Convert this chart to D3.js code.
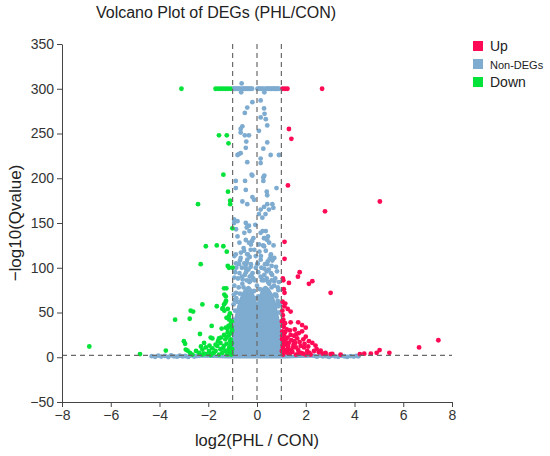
<!DOCTYPE html>
<html>
<head>
<meta charset="utf-8">
<script src="https://cdn.jsdelivr.net/npm/d3@7"></script>
<style>
  body { margin: 0; background: #fff; }
  svg text { font-family: "Liberation Sans", Arial, sans-serif; fill: #222; }
  .axis path, .axis line { stroke: #444; }
  .axis text { font-size: 14px; fill: #333; }
  .cut { stroke: #6a6a6a; stroke-width: 1.2; stroke-dasharray: 5,4; fill: none; }
</style>
</head>
<body>
<svg id="chart" width="550" height="456"></svg>
<script>
// thresholds
const fcCut = 1;
const qCut = 2;

const xTicks = [-8, -6, -4, -2, 0, 2, 4, 6, 8];
const yTicks = [-50, 0, 50, 100, 150, 200, 250, 300, 350];

// Up-regulated genes (log2FC, -log10 Q)
const upX = [2.67, 1.05, 1.15, 1.25, 1.31, 1.41, 1.27, 1.13, 1.13, 5.04, 2.79,
  1.75, 1.68, 1.08, 1.31, 2.27, 2.13, 1.13, 3.02, 1.06, 1.1, 1.16, 1.26, 1.06,
  1.04, 1.38, 1.38, 1.69, 1.85, 2.0, 1.85, 1.04, 1.04, 1.1, 1.11, 1.38, 1.52,
  1.72, 1.25, 1.65, 2.0, 2.13, 2.27, 1.1, 1.3, 1.5, 1.79, 1.93, 1.07, 1.27, 1.48,
  1.69, 2.06, 2.34, 2.54, 2.81, 3.09, 3.43, 1.07, 1.34, 1.6, 1.89, 2.2, 1.2, 1.57,
  2.4, 2.61, 2.81, 3.02, 1.02, 1.08, 1.15, 1.03, 1.05, 1.02, 1.12, 1.18, 1.15,
  1.22, 1.03, 1.2, 1.14, 1.4, 1.45, 1.6, 1.75, 1.8, 1.95, 1.35, 1.55, 1.7, 1.25,
  1.4, 1.52, 1.62, 1.08, 1.28, 1.9, 2.1, 2.45, 2.15, 2.0, 2.7, 4.67, 4.91, 5.03,
  5.43, 6.65, 7.44, 4.22, 4.4, 1.05, 1.12];
const upY = [300, 300, 300, 300, 255, 244, 192, 129, 110, 174, 163,
  95, 90, 86, 83, 85, 82, 72, 72, 88, 76, 60, 54, 47,
  52, 51, 39, 39, 36, 33, 29, 35, 29, 34, 25, 25, 24,
  27, 22, 21, 23, 18, 16, 16, 16, 14, 12.6, 11, 11, 9, 11,
  8, 7, 7, 5.5, 3.7, 3.7, 3, 3, 4, 3, 4, 3, 14, 16,
  13, 7.5, 5, 3.5, 40, 42, 38, 20, 13, 7, 6, 20, 28,
  31, 24, 8, 18, 19, 6, 11, 17, 5, 15, 30, 31, 4, 5,
  8, 18, 26, 22, 12, 20, 12, 9, 5, 3, 4, 4, 5, 8,
  5, 11, 19, 3.5, 4, 62, 57];

// Down-regulated genes
const downX = [-3.1, -1.1, -1.2, -1.3, -1.4, -1.5, -1.6, -1.7, -1.56, -1.24,
  -1.17, -1.38, -1.19, -1.1, -1.1, -2.42, -1.01, -1.65, -1.38, -1.24, -2.1, -2.31,
  -1.2, -1.0, -1.15, -1.35, -1.26, -1.28, -1.34, -1.27, -2.24, -1.65, -1.3, -1.35,
  -1.42, -2.62, -2.72, -1.34, -1.11, -3.36, -2.76, -1.25, -1.14, -1.86, -1.17,
  -1.21, -1.04, -1.28, -2.34, -3.0, -2.95, -1.83, -1.48, -1.14, -2.85, -3.74,
  -6.88, -4.8, -1.9, -1.56, -1.22, -2.17, -1.5, -1.1, -2.92, -2.65, -2.38, -2.24,
  -2.1, -1.97, -1.83, -1.7, -1.63, -1.5, -1.36, -1.29, -1.15, -1.08, -1.22, -1.56,
  -1.9, -2.17, -1.04, -1.42, -1.77, -2.04, -1.15, -1.4, -1.2, -1.02, -1.05, -1.08,
  -1.03, -1.12, -1.02, -1.06, -1.18, -1.25, -1.3, -1.2, -1.35, -1.03, -1.08, -1.4,
  -1.6, -1.7, -1.95, -2.3, -2.5, -1.85, -2.25, -2.75, -1.45];
const downY = [300, 300, 300, 300, 300, 300, 300, 300, 248, 248,
  239, 204, 185, 175, 171, 171, 144, 125, 124, 118, 124, 104,
  102, 100, 100, 77, 77, 68, 70, 63, 59, 57, 61, 59,
  54, 51, 52, 52, 49, 42, 43, 44, 42, 35, 35,
  32, 33, 33, 26, 18, 15, 21, 22, 25, 7.5, 7.5,
  12, 3.5, 22, 21, 23, 16, 16, 18, 8.6, 3, 5, 8.6,
  11, 7, 10, 7, 12.6, 9, 12.6, 7, 10, 14, 3, 3,
  2.5, 4, 5, 5, 5, 3.5, 46, 55, 54, 30, 27, 20,
  16, 12, 9, 3, 7, 15, 20, 28, 25, 40, 37, 10,
  18, 14, 13, 12, 7, 4, 3, 5, 32];

// Non-DEGs scattered above the saturated cloud, and the base band
const nonX = [-1.0, -0.95, -0.9, -0.86, -0.8, -0.75, -0.7, -0.63, -0.65, -0.6,
  -0.55, -0.5, -0.45, -0.4, -0.36, -0.3, -0.25, -0.2, 0.02, 0.08, 0.13, 0.2, 0.25,
  0.3, 0.35, 0.4, 0.45, 0.5, 0.55, 0.6, 0.66, 0.7, 0.75, 0.8, 0.85, 0.9,
  0.15, -0.19, -0.4, -0.5, 0.29, 0.31, 0.15, 0.36, 0.42, -0.6, -0.67, 0.08, -0.67,
  -0.5, -0.33, -0.44, 0.42, -0.46, 0.26, -0.67, -0.8, -0.74, 0.56, 0.9, 0.15, -0.4,
  0.15, -0.22, 0.3,
  -0.87, -0.49, -0.19, 0.26, 0.26, -0.87, -0.46, 0.8, 0.4, 0.42, -0.19, -0.12, -0.6,
  -0.4, 0.42, 0.63, 0.29, 0.15, 0.49, 0.67, 0.08, 0.35, 0.22, -0.94, -0.8, -0.94,
  -0.46, -0.33, -0.42, -0.07, 0.36, 0.15, -0.15, 0.29, 0.42, -0.46, -0.33, 0.08,
  0.29, -0.26, -0.53, 0.36, -0.87, -0.4, -0.05, 0.56, -0.67, -0.4, 0.15, 0.63,
  -0.74, -0.46, 0.01, 0.42, -0.26,
  -0.86, -0.52, -0.31, 0.23, 0.3, 0.5, -0.72, -0.25, -0.11, -0.66, -0.38, 0.57,
  0.71, 0.16, -0.93, -0.86, -0.52, 0.03, 0.44, 0.78, -0.45, 0.3, -0.72, -0.18, 0.57,
  -0.93, -0.59, 0.23, 0.71, -0.31, 0.5, -0.93, 0.85, -0.86, 0.78, -0.93, 0.85,
  -0.96, 0.88,
  -0.97, -0.9, -0.82, -0.7, -0.55, -0.42, -0.28, -0.12, 0.12, 0.28, 0.45, 0.6, 0.72,
  0.83, 0.92, 0.98, -0.05, 0.05, -0.3, 0.3, -0.6, 0.6, -0.85, 0.8, -0.15, 0.15,
  -0.45, 0.4, 0.0, -0.75, 0.7,
  -0.9, -0.78, -0.62, -0.5, -0.35, -0.22, -0.1, 0.05, 0.18, 0.33, 0.48, 0.62, 0.75,
  0.88, -0.7, -0.3, 0.1, 0.52, -0.55, 0.25, 0.68, -0.2, 0.45, -0.8, -0.62, 0.9,
  -0.95, 0.95, -0.25, 0.4, -0.42, 0.2, -0.05, 0.6, -0.85, 0.82,
  -4.32, -4.18, -4.05, -3.93, -3.78, -3.64, -3.52, -3.41, -3.28, -3.17, -3.05,
  -2.94, -2.82, -2.71, -2.58, -2.47, -2.36, 2.35, 2.46, 2.58, 2.7, 2.83, 2.95, 3.06,
  3.2, 3.33, 3.45, 3.58, 3.7, 3.84, 3.97, 4.08, 4.16];
const nonY = [300, 300, 300, 300, 300, 300, 300, 306, 296, 300,
  300, 300, 300, 300, 300, 300, 300, 300, 300, 300, 300, 300, 300,
  296, 300, 300, 300, 300, 300, 300, 300, 300, 300, 300, 300, 300,
  287, 285, 279, 273, 278, 272, 268, 266, 259, 258, 255, 253, 251,
  248, 248, 241, 240, 234, 233, 228, 226, 227, 226, 226, 222, 218,
  217, 204, 203,
  197, 197, 203, 201, 197, 189, 187, 189, 185, 181, 179, 176, 174,
  171, 171, 171, 168, 165, 165, 167, 160, 160, 156, 154, 152, 150,
  150, 147, 145, 148, 141, 139, 133, 133, 131, 131, 128, 126,
  124, 120, 119, 119, 115, 115, 113, 113, 111, 109, 109, 108,
  104, 103, 104, 104, 101,
  143, 139, 141, 141, 133, 128, 128, 126, 120, 117, 115, 115,
  111, 113, 113, 105, 105, 105, 107, 101, 99, 99, 94, 94, 94,
  89, 87, 87, 85, 84, 82, 80, 78, 72, 70, 64, 63,
  59, 57,
  42, 52, 62, 71, 78, 86, 85, 74, 76, 86, 84, 78, 70,
  60, 50, 40, 66, 68, 90, 92, 82, 86, 66, 68, 88, 90,
  95, 96, 80, 78, 80,
  95, 88, 100, 92, 98, 92, 86, 95, 100, 104, 98, 92, 88,
  75, 108, 112, 118, 110, 122, 125, 125, 130, 135, 135, 90, 84,
  70, 60, 104, 88, 106, 86, 100, 102, 100, 96,
  1.2, 0.5, 1.8, 0.8, 1.5, 0.3, 2.0, 1.0, 0.6, 1.7, 0.9,
  1.4, 0.4, 1.9, 0.7, 1.3, 1.6, 1.5, 0.6, 1.9, 0.9, 1.3, 0.4, 1.7,
  1.0, 0.5, 1.6, 1.1, 0.4, 1.3, 0.8, 1.5, 1.0];

// outline of the saturated Non-DEG cloud (too dense to show as single dots)
const coreX =   [-2.3, -1.2, -1.05, -1.0, -0.95, -0.88, -0.78, -0.65, -0.5, -0.35,
  -0.2, -0.08, 0, 0.08, 0.2, 0.35, 0.5, 0.65, 0.78, 0.88, 0.95, 1.0, 1.05, 1.2, 2.3];
const coreTop = [2, 3, 8, 30, 40, 50, 60, 70, 77, 80,
  76, 68, 62, 68, 77, 80, 77, 70, 60, 48, 38, 28, 8, 3, 2];
const coreLow = [-0.6, -1.3, -1.5, -1.5, -1.5, -1.5, -1.5, -1.5, -1.5, -1.5,
  -1.5, -1.5, -1.5, -1.5, -1.5, -1.5, -1.5, -1.5, -1.5, -1.5, -1.5, -1.5, -1.5, -1.3, -0.6];

const colors = {up: '#ff0a54', non: '#7eabd0', down: '#05e33a'};

const svg = d3.select('#chart');
const x = d3.scaleLinear().domain([-8, 8]).range([62, 452]);
const y = d3.scaleLinear().domain([-50, 350]).range([402, 44]);
const r = 2.4;

// saturated cloud
const core = coreX.map((d, i) => ({x: d, top: coreTop[i], low: coreLow[i]}));
svg.append('path')
  .datum(core)
  .attr('fill', colors.non)
  .attr('d', d3.area()
    .x((d) => x(d.x))
    .y0((d) => y(d.low))
    .y1((d) => y(d.top))
    .curve(d3.curveMonotoneX));

function drawDots(xs, ys, color) {
  svg.append('g')
    .selectAll('circle')
    .data(xs.map((d, i) => [d, ys[i]]))
    .enter().append('circle')
    .attr('cx', (d) => x(d[0]))
    .attr('cy', (d) => y(d[1]))
    .attr('r', r)
    .attr('fill', color);
}

drawDots(nonX, nonY, colors.non);
drawDots(downX, downY, colors.down);
drawDots(upX, upY, colors.up);

// cut-off lines
[-fcCut, 0, fcCut].forEach((v) => {
  svg.append('line').attr('class', 'cut')
    .attr('x1', x(v)).attr('x2', x(v))
    .attr('y1', y(350)).attr('y2', y(-50));
});
svg.append('line').attr('class', 'cut')
  .attr('x1', x(-8)).attr('x2', x(8))
  .attr('y1', y(qCut)).attr('y2', y(qCut));

// axes
svg.append('g')
  .attr('class', 'axis')
  .attr('transform', 'translate(0,' + y(-50) + ')')
  .call(d3.axisBottom(x).tickValues(xTicks).tickSize(5).tickSizeOuter(0));

svg.append('g')
  .attr('class', 'axis')
  .attr('transform', 'translate(' + x(-8) + ',0)')
  .call(d3.axisLeft(y).tickValues(yTicks).tickSize(5).tickSizeOuter(0));

// titles
svg.append('text')
  .attr('x', 216).attr('y', 18)
  .attr('text-anchor', 'middle')
  .style('font-size', '16px')
  .text('Volcano Plot of DEGs (PHL/CON)');

svg.append('text')
  .attr('x', 257).attr('y', 446)
  .attr('text-anchor', 'middle')
  .style('font-size', '16.5px')
  .text('log2(PHL / CON)');

svg.append('text')
  .attr('transform', 'translate(21,223) rotate(-90)')
  .attr('text-anchor', 'middle')
  .style('font-size', '17px')
  .text('\u2212log10(Qvalue)');

// legend
const legendKeys = ['up', 'non', 'down'];
const legendLabels = ['Up', 'Non-DEGs', 'Down'];
const legendSizes = [14, 11, 14];
const legend = svg.append('g').attr('transform', 'translate(473,41)');
legendKeys.forEach((k, i) => {
  const row = legend.append('g').attr('transform', 'translate(0,' + i * 18 + ')');
  row.append('rect').attr('width', 10).attr('height', 10).attr('fill', colors[k]);
  row.append('text')
    .attr('x', 17).attr('y', 10)
    .style('font-size', legendSizes[i] + 'px')
    .text(legendLabels[i]);
});
</script>
</body>
</html>
